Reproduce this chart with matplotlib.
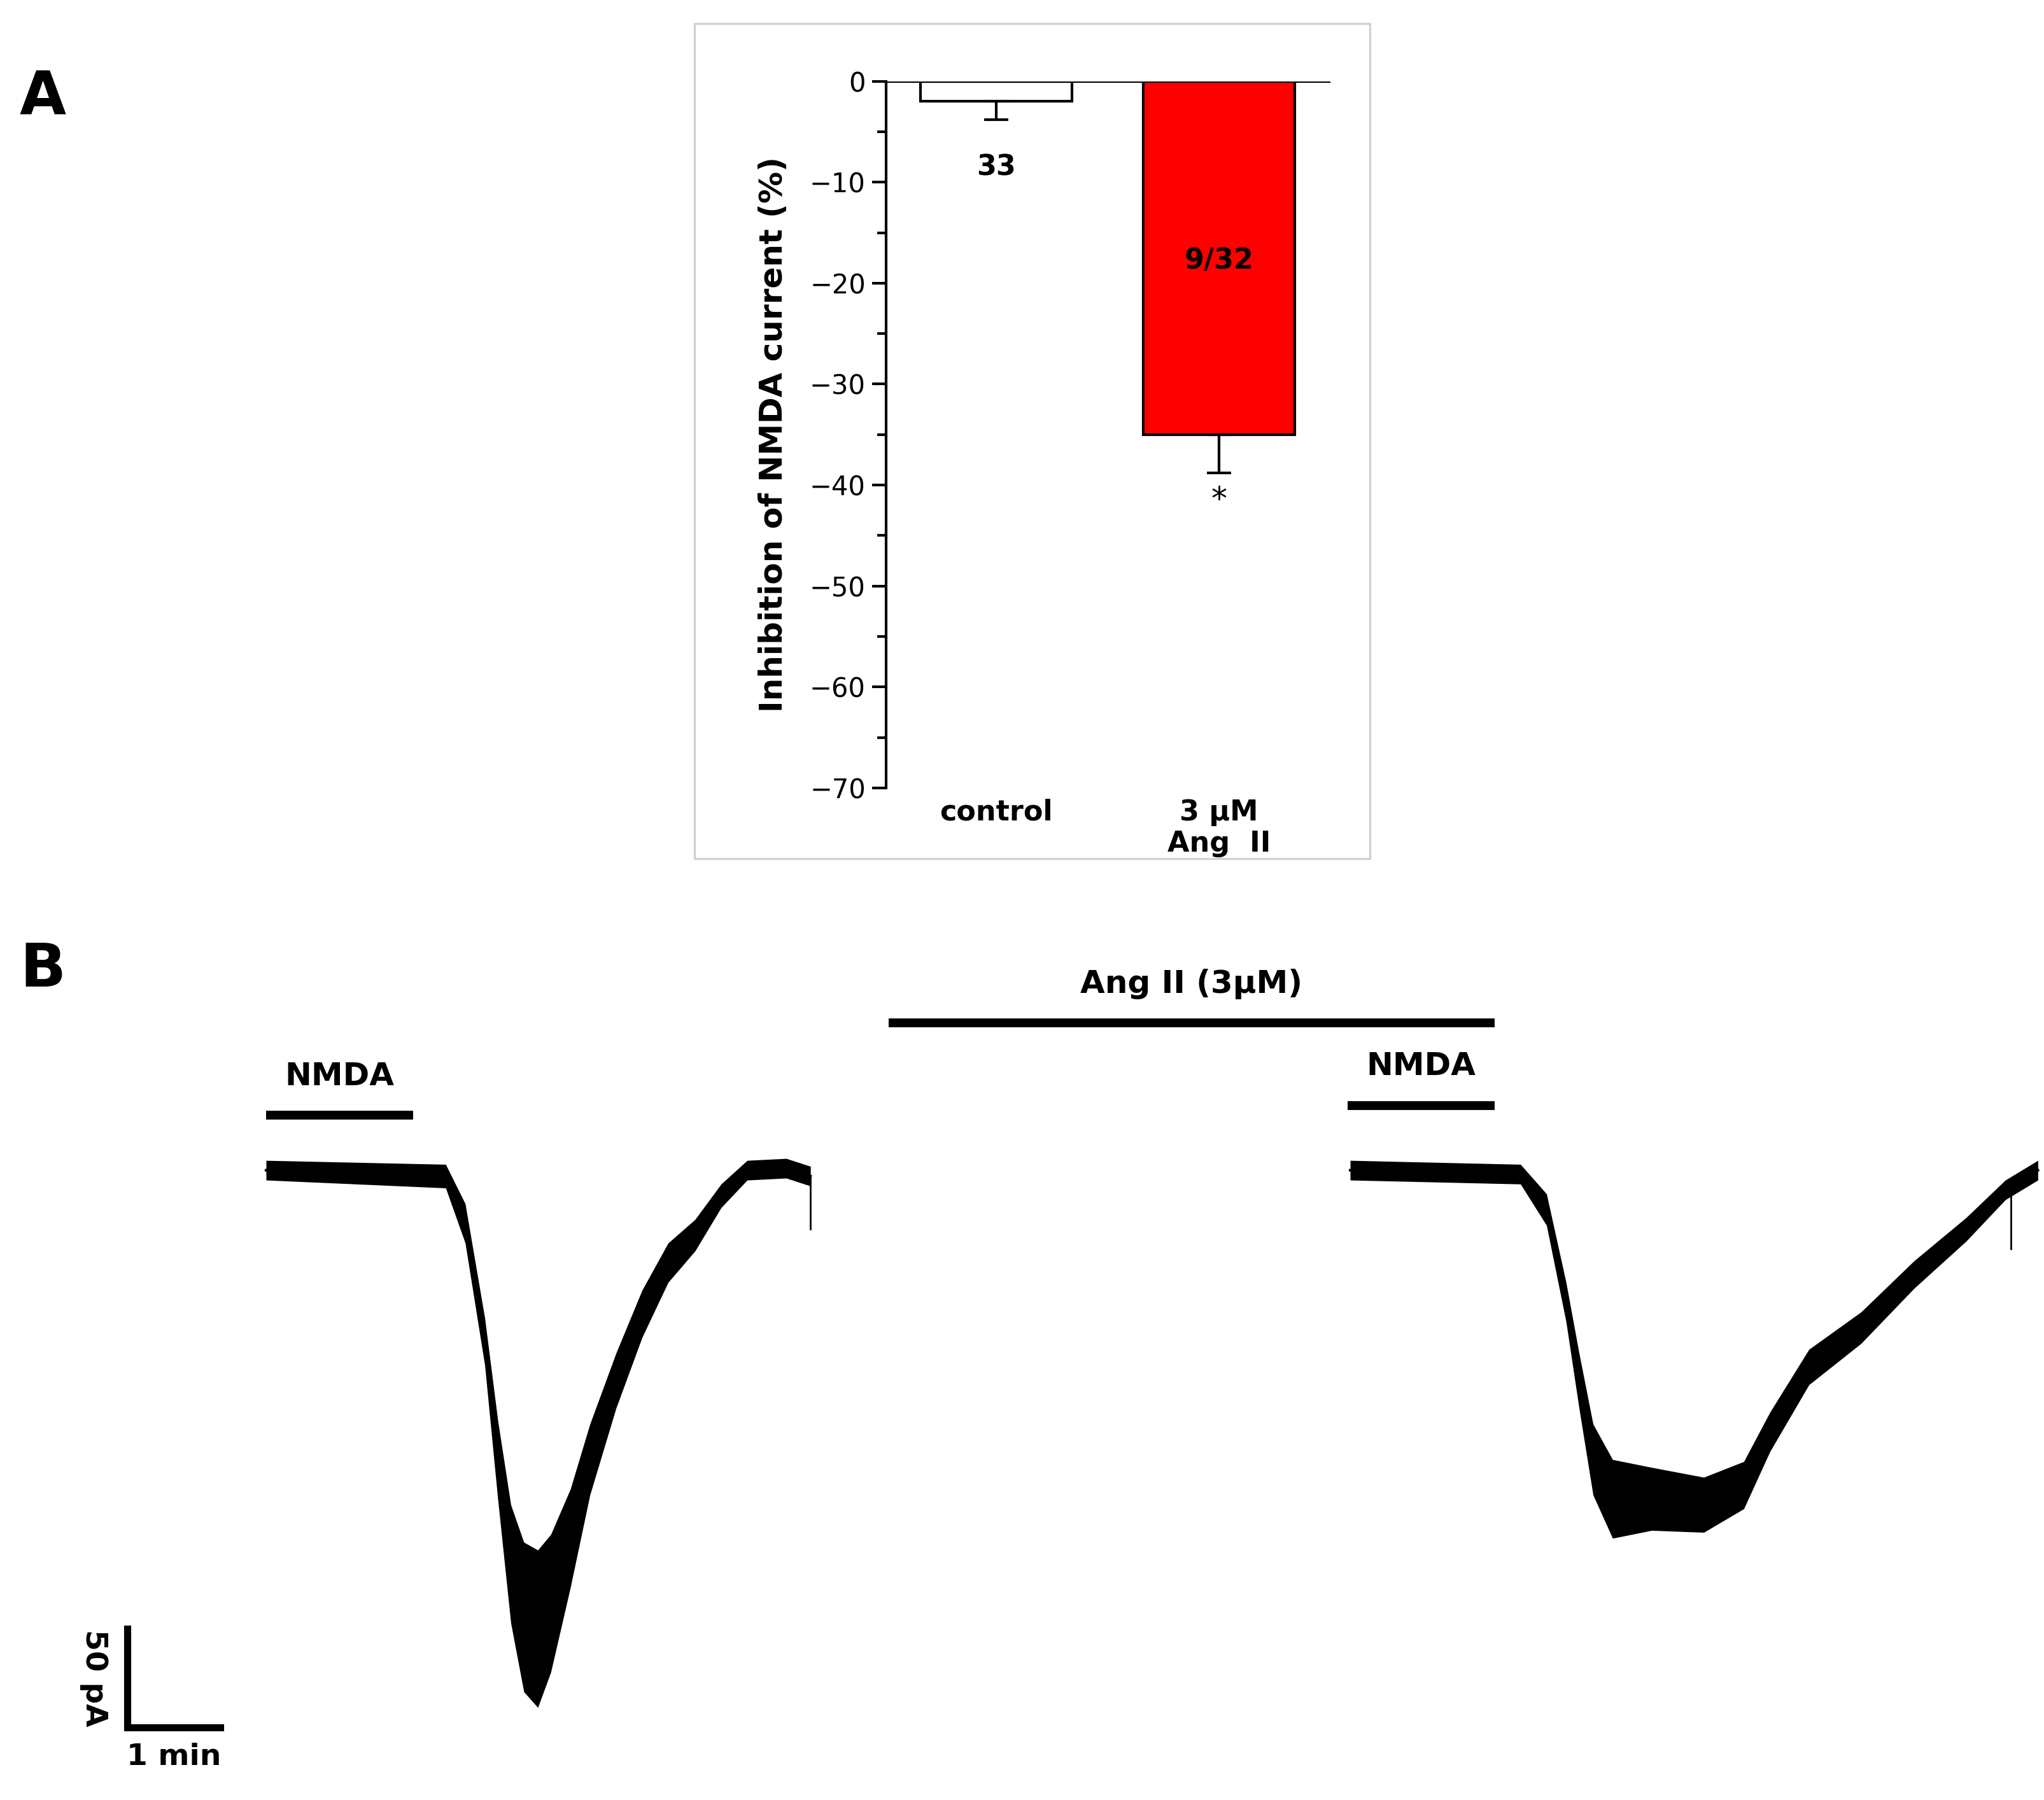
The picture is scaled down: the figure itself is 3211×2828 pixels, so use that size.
import matplotlib

matplotlib.use("Agg")

import matplotlib.pyplot as plt
import numpy as np
from matplotlib.patches import Rectangle

# Panel A data
GROUPS = ["control", "3 \u00b5M\nAng  II"]
MEANS = [-2.0, -35.0]
ERRS = [1.8, 3.8]
N_LABELS = ["33", "9/32"]
BAR_COLORS = ["white", "#FF0000"]

# Panel B traces (time in min, current in pA)
T1 = [0, 1.93, 2.14, 2.35, 2.49, 2.63, 2.77, 2.92, 3.06, 3.27, 3.48, 3.76,
      4.04, 4.32, 4.61, 4.89, 5.17, 5.59, 5.85]
I1 = [0, -3, -27, -87, -147, -200, -227, -233, -220, -187, -147, -107,
      -73, -47, -33, -13, 0, 1, -3]
N1 = [5, 6, 10, 12, 20, 30, 38, 40, 35, 25, 18, 14, 12, 10, 8, 6, 5, 5, 5]

T2_OFFSET = 11.65
T2 = [0, 1.83, 2.11, 2.32, 2.46, 2.61, 2.82, 3.24, 3.80, 4.23, 4.51, 4.93,
      5.49, 6.06, 6.62, 7.04, 7.39]
I2 = [0, -2, -20, -67, -107, -147, -167, -167, -170, -160, -133, -100,
      -80, -53, -30, -10, 0]
N2 = [5, 5, 8, 10, 14, 18, 20, 16, 14, 12, 10, 9, 8, 7, 6, 5, 5]

NMDA1 = (0.0, 1.58)
ANG = (6.69, 13.2)
NMDA2 = (11.62, 13.2)

W, H = 1560.0, 1373.0


def fx(px):
    return px / W


def fy(py):
    return 1 - py / H


plt.rcParams.update({"font.family": "DejaVu Sans"})
fig = plt.figure(figsize=(16.06, 14.14), dpi=200)

# Panel A
fig.patches.append(Rectangle((fx(530), fy(655)), fx(515), (655 - 18) / H,
                             transform=fig.transFigure, fill=False,
                             edgecolor="#D0D0D0", linewidth=1.2))
fig.text(fx(15), fy(75), "A", fontsize=34, fontweight="bold", va="center")
ax = fig.add_axes([fx(676), fy(601), fx(339), (601 - 62) / H])
x = np.arange(len(GROUPS))
ax.bar(x, MEANS, width=0.68, color=BAR_COLORS, edgecolor="black", linewidth=1.5)
ax.errorbar(x, MEANS, yerr=[ERRS, [0, 0]], fmt="none", ecolor="black",
            elinewidth=1.5, capsize=7, capthick=1.5)
ax.axhline(0, color="black", linewidth=1.5)
ax.text(0, -8.5, N_LABELS[0], ha="center", va="center", fontsize=16, fontweight="bold")
ax.text(1, -17.8, N_LABELS[1], ha="center", va="center", fontsize=16, fontweight="bold")
ax.text(1, -41.5, "*", ha="center", va="center", fontsize=18)
ax.set_xlim(-0.494, 1.5)
ax.set_ylim(-70, 0)
ax.set_yticks(np.arange(-70, 1, 10))
ax.set_yticklabels(["\u2212%d" % -v if v else "0" for v in np.arange(-70, 1, 10)])
ax.set_yticks(np.arange(-70, 1, 5), minor=True)
ax.set_xticks(x)
ax.set_xticklabels(["control", "3 \u00b5M\nAng  II"], fontsize=16, fontweight="bold")
ax.tick_params(axis="x", length=0, pad=6)
ax.tick_params(axis="y", labelsize=15, width=1.5, length=8, direction="out")
ax.tick_params(axis="y", which="minor", width=1.5, length=5)
for s in ["top", "right", "bottom"]:
    ax.spines[s].set_visible(False)
ax.spines["left"].set_linewidth(1.5)
ax.set_ylabel("Inhibition of NMDA current (%)", fontsize=18, fontweight="bold", labelpad=12)

# Panel B
fig.text(fx(15), fy(740), "B", fontsize=34, fontweight="bold", va="center")
bx = fig.add_axes([0, 0, 1, 680 / H])
bx.set_xlim(-203 / 71, (1560 - 203) / 71)
bx.set_ylim(-320, 133)
bx.axis("off")
for t, i, n, off in [(T1, I1, N1, 0.0), (T2, I2, N2, T2_OFFSET)]:
    t = np.asarray(t) + off
    i = np.asarray(i, float)
    n = np.asarray(n, float)
    bx.fill_between(t, i - n, i + n, color="black", linewidth=0)
    bx.plot(t, i, color="black", linewidth=1.5)
bx.plot([T1[-1], T1[-1]], [I1[-1], -30], color="black", linewidth=1)
bx.plot([T2_OFFSET + 7.1, T2_OFFSET + 7.1], [-8, -40], color="black", linewidth=1)
for (a, b), yv in [(NMDA1, 28), (NMDA2, 33), (ANG, 75)]:
    bx.plot([a, b], [yv, yv], color="black", linewidth=5, solid_capstyle="butt")
bx.text(np.mean(NMDA1), 40, "NMDA", ha="center", va="bottom", fontsize=18, fontweight="bold")
bx.text(np.mean(NMDA2), 45, "NMDA", ha="center", va="bottom", fontsize=18, fontweight="bold")
bx.text(np.mean(ANG), 87, "Ang II (3\u00b5M)", ha="center", va="bottom", fontsize=18, fontweight="bold")
# scale bar: 1 min, 50 pA
sx, sy = (97 - 203) / 71, -283
bx.plot([sx, sx, sx + 1], [sy + 50, sy, sy], color="black", linewidth=4, solid_joinstyle="miter")
bx.text(sx + 0.5, sy - 8, "1 min", ha="center", va="top", fontsize=17, fontweight="bold")
bx.text(sx - 0.2, sy + 25, "50 pA", ha="right", va="center", rotation=-90,
        fontsize=17, fontweight="bold")

fig.savefig("out.png", dpi=200, facecolor="white")
